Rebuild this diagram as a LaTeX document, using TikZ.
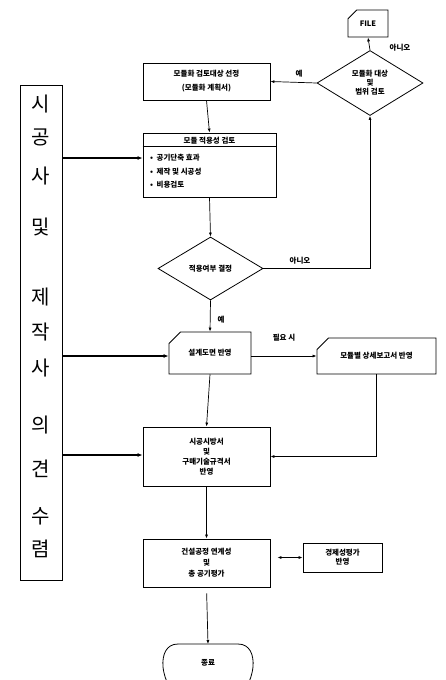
\documentclass[tikz,border=0pt]{standalone}
\usepackage{fontspec}
\setmainfont{Noto Sans CJK KR}
\usetikzlibrary{shapes.geometric,shapes.misc,arrows.meta,calc}
\begin{document}
\begin{tikzpicture}[x=1pt,y=-1pt,
  box/.style={draw,line width=0.8pt,inner sep=0pt,align=center,font=\fontsize{7.5}{12}\selectfont\bfseries},
  card/.style={box,chamfered rectangle,chamfered rectangle corners=north west,chamfered rectangle xsep=8pt,chamfered rectangle ysep=8pt},
  dia/.style={box,diamond},
  arr/.style={line width=0.7pt,-{Latex[length=4pt,width=3pt]}},
  dblarr/.style={line width=0.7pt,{Latex[length=4pt,width=3pt]}-{Latex[length=4pt,width=3pt]}},
  feedarr/.style={line width=2pt,-{Latex[length=5pt,width=4pt]}},
  lbl/.style={font=\fontsize{7.5}{9}\selectfont\bfseries,inner sep=0pt},
  sidech/.style={font=\fontsize{20}{20}\selectfont,inner sep=0pt}]
\useasboundingbox[fill=white] (0,0) rectangle (446,680);

% nodes
\node[card,minimum width=40pt,minimum height=27pt,chamfered rectangle xsep=6pt,chamfered rectangle ysep=6pt] (file) at (368,23.5) {FILE};
\node[dia,minimum width=106pt,minimum height=65pt] (d1) at (370,83) {모듈화 대상\\[-3pt]및\\[-3pt]범위 검토};
\node[box,minimum width=127pt,minimum height=37pt] (b1) at (206.5,81.5) {모듈화 검토대상 선정\\[2pt](모듈화 계획서)};
\node[box,minimum width=133pt,minimum height=64pt] (b2) at (209.5,165) {};
\node[lbl] (b2h) at (209.5,141) {모듈 적용성 검토};
\node[lbl,anchor=west] (b2a) at (150,158) {•\ \ 공기단축 효과};
\node[lbl,anchor=west] (b2b) at (150,171.5) {•\ \ 제작 및 시공성};
\node[lbl,anchor=west] (b2c) at (150,185) {•\ \ 비용검토};
\draw[line width=0.8pt] (b2.west |- b2h.south) ++(0,1.5) coordinate (hl) -- (b2.east |- hl);
\node[dia,minimum width=105pt,minimum height=63pt] (d2) at (210.5,268.5) {적용여부 결정};
\node[card,minimum width=82pt,minimum height=42pt] (b3) at (210,353) {설계도면 반영};
\node[card,minimum width=119pt,minimum height=36pt] (b4) at (376.5,356) {모듈별 상세보고서 반영};
\node[box,minimum width=127pt,minimum height=59pt] (b5) at (206.5,456.5) {시공시방서\\[-2pt]및\\[-2pt]구매기술규격서\\[-2pt]반영};
\node[box,minimum width=127pt,minimum height=48pt] (b6) at (206.5,563) {건설공정 연계성\\[-1pt]및\\[-1pt]총 공기평가};
\node[box,minimum width=79pt,minimum height=29pt] (b7) at (342.5,557.5) {경제성평가\\[-3pt]반영};

% terminal
\draw[line width=0.8pt] (178,644) -- (238,644)
  .. controls (250,644) and (254,655) .. (253,667)
  .. controls (252,675) and (250,680) .. (248,684);
\draw[line width=0.8pt] (178,644)
  .. controls (166,644) and (162,655) .. (163,667)
  .. controls (164,675) and (166,680) .. (168,684);
\node[lbl] (endt) at (208,663) {종료};
\coordinate (endtop) at (208,644);

% left panel
\node[draw,line width=0.8pt,minimum width=42pt,minimum height=495pt,inner sep=0pt] (side) at (41,332.5) {};
\foreach \ch/\yy [count=\i] in {시/104,공/137,사/176,및/227,제/297,작/332,사/368,의/425,견/469,수/516,렴/549}
  \node[sidech] (s\i) at (41,\yy) {\ch};

% connectors
\draw[arr] (d1.north) -- (file.south);
\node[lbl] (no1) at (400,48) {아니오};
\draw[arr] (d1.west) -- (b1.east);
\node[lbl] (yes1) at (299,74) {예};
\draw[arr] (b1.south) -- (b2.north);
\draw[arr] (b2.south) -- (d2.north);
\draw[arr] (d2.east) -- (d1.south |- d2.east) -- (d1.south);
\node[lbl] (no2) at (300,261) {아니오};
\draw[arr] (d2.south) -- (b3.north);
\node[lbl] (yes2) at (221,320) {예};
\draw[arr] (b3.east |- b4.west) -- (b4.west);
\node[lbl] (need) at (284,338) {필요 시};
\draw[arr] (b4.south) |- (b5.east);
\draw[arr] (b3.south) -- (b5.north);
\draw[arr] (b5.south) -- (b6.north);
\draw[dblarr,shorten <=7pt] (b6.east |- b7.west) -- (b7.west);
\draw[arr,shorten <=6pt] (b6.south) -- (endtop);

% feedback arrows from side panel
\draw[feedarr] (side.east |- 0,158) -- (b2.west |- 0,158);
\draw[feedarr] (side.east |- b4.west) -- (b3.west |- b4.west);
\draw[feedarr] (side.east |- 0,455) -- (b5.west |- 0,455);
\end{tikzpicture}
\end{document}
